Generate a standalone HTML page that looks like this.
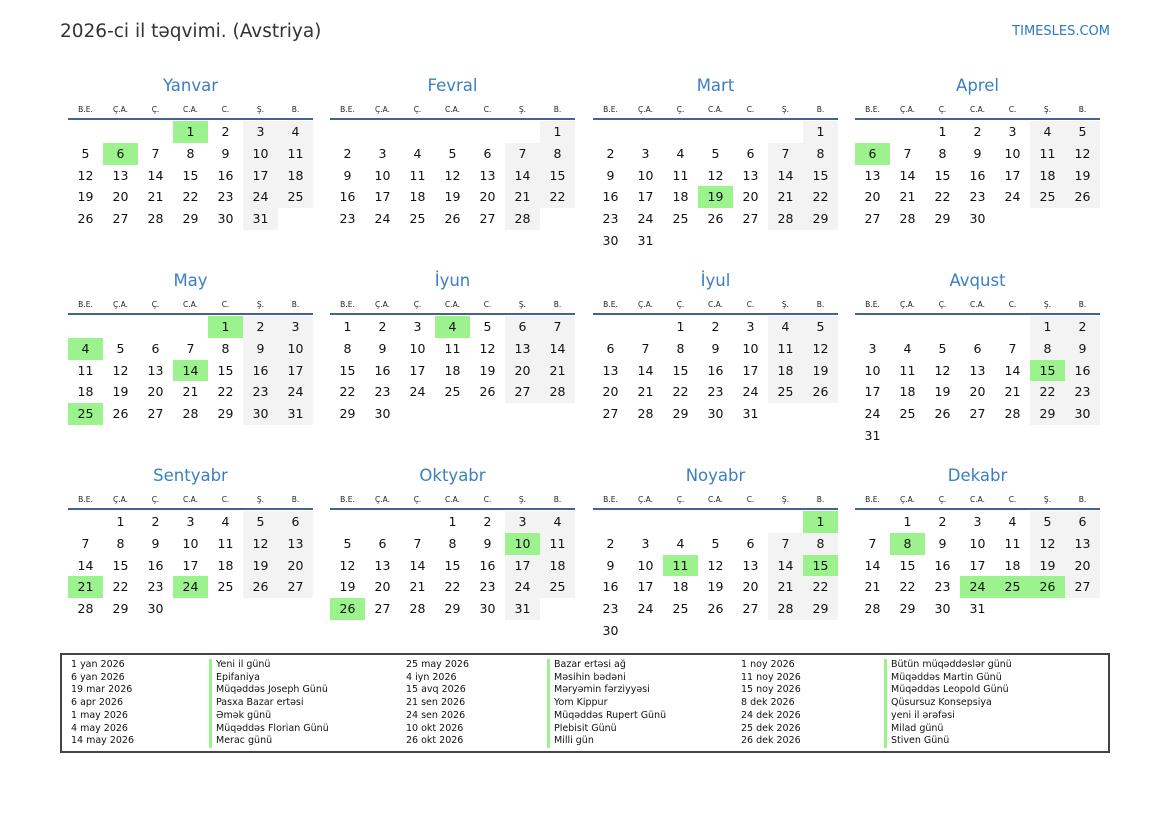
<!DOCTYPE html>
<html><head><meta charset="utf-8"><style>
body{margin:0;width:1169px;height:827px;background:#fff;font-family:"DejaVu Sans","Liberation Sans",sans-serif;position:relative;overflow:hidden;color:#111}
.t{position:absolute;left:60px;top:21px;font-size:18.5px;color:#333}
.s{position:absolute;right:59px;top:24px;font-size:13px;color:#2a7ac0}
.m{position:absolute;width:245px}
.m h2{margin:0;height:28px;font-weight:normal;font-size:16.5px;color:#3a7fc1;text-align:center;line-height:26px;padding-top:0}
.hd{display:grid;grid-template-columns:repeat(7,35px);font-size:7.5px;text-align:center;height:16px;line-height:16px;color:#222;border-bottom:2px solid #46638f;margin-top:1px}
.g{display:grid;grid-template-columns:repeat(7,35px);grid-auto-rows:21.75px;margin-top:1px}
.g span,.g i{font-style:normal;text-align:center;line-height:21.75px;font-size:12.5px}
.g span:nth-child(7n+6),.g span:nth-child(7n){background:#f3f3f3}
.g span.h{background:#9cf38e}
.lg{position:absolute;left:60px;top:653px;width:1046px;height:96px;border:2px solid #444;font-size:9.5px;line-height:12.7px}
.c{position:absolute;top:4px}
.b{border-left:3px solid #9cf38e;padding-left:4px}
</style></head><body>
<div class="t">2026-ci il təqvimi. (Avstriya)</div>
<div class="s">TIMESLES.COM</div>

<div class="m" style="left:68px;top:73px"><h2>Yanvar</h2><div class="hd"><div>B.E.</div><div>Ç.A.</div><div>Ç.</div><div>C.A.</div><div>C.</div><div>Ş.</div><div>B.</div></div>
<div class="g"><i></i><i></i><i></i><span class="h">1</span><span>2</span><span>3</span><span>4</span><span>5</span><span class="h">6</span><span>7</span><span>8</span><span>9</span><span>10</span><span>11</span><span>12</span><span>13</span><span>14</span><span>15</span><span>16</span><span>17</span><span>18</span><span>19</span><span>20</span><span>21</span><span>22</span><span>23</span><span>24</span><span>25</span><span>26</span><span>27</span><span>28</span><span>29</span><span>30</span><span>31</span></div></div>

<div class="m" style="left:330px;top:73px"><h2>Fevral</h2><div class="hd"><div>B.E.</div><div>Ç.A.</div><div>Ç.</div><div>C.A.</div><div>C.</div><div>Ş.</div><div>B.</div></div>
<div class="g"><i></i><i></i><i></i><i></i><i></i><i></i><span>1</span><span>2</span><span>3</span><span>4</span><span>5</span><span>6</span><span>7</span><span>8</span><span>9</span><span>10</span><span>11</span><span>12</span><span>13</span><span>14</span><span>15</span><span>16</span><span>17</span><span>18</span><span>19</span><span>20</span><span>21</span><span>22</span><span>23</span><span>24</span><span>25</span><span>26</span><span>27</span><span>28</span></div></div>

<div class="m" style="left:593px;top:73px"><h2>Mart</h2><div class="hd"><div>B.E.</div><div>Ç.A.</div><div>Ç.</div><div>C.A.</div><div>C.</div><div>Ş.</div><div>B.</div></div>
<div class="g"><i></i><i></i><i></i><i></i><i></i><i></i><span>1</span><span>2</span><span>3</span><span>4</span><span>5</span><span>6</span><span>7</span><span>8</span><span>9</span><span>10</span><span>11</span><span>12</span><span>13</span><span>14</span><span>15</span><span>16</span><span>17</span><span>18</span><span class="h">19</span><span>20</span><span>21</span><span>22</span><span>23</span><span>24</span><span>25</span><span>26</span><span>27</span><span>28</span><span>29</span><span>30</span><span>31</span></div></div>

<div class="m" style="left:855px;top:73px"><h2>Aprel</h2><div class="hd"><div>B.E.</div><div>Ç.A.</div><div>Ç.</div><div>C.A.</div><div>C.</div><div>Ş.</div><div>B.</div></div>
<div class="g"><i></i><i></i><span>1</span><span>2</span><span>3</span><span>4</span><span>5</span><span class="h">6</span><span>7</span><span>8</span><span>9</span><span>10</span><span>11</span><span>12</span><span>13</span><span>14</span><span>15</span><span>16</span><span>17</span><span>18</span><span>19</span><span>20</span><span>21</span><span>22</span><span>23</span><span>24</span><span>25</span><span>26</span><span>27</span><span>28</span><span>29</span><span>30</span></div></div>

<div class="m" style="left:68px;top:268px"><h2>May</h2><div class="hd"><div>B.E.</div><div>Ç.A.</div><div>Ç.</div><div>C.A.</div><div>C.</div><div>Ş.</div><div>B.</div></div>
<div class="g"><i></i><i></i><i></i><i></i><span class="h">1</span><span>2</span><span>3</span><span class="h">4</span><span>5</span><span>6</span><span>7</span><span>8</span><span>9</span><span>10</span><span>11</span><span>12</span><span>13</span><span class="h">14</span><span>15</span><span>16</span><span>17</span><span>18</span><span>19</span><span>20</span><span>21</span><span>22</span><span>23</span><span>24</span><span class="h">25</span><span>26</span><span>27</span><span>28</span><span>29</span><span>30</span><span>31</span></div></div>

<div class="m" style="left:330px;top:268px"><h2>İyun</h2><div class="hd"><div>B.E.</div><div>Ç.A.</div><div>Ç.</div><div>C.A.</div><div>C.</div><div>Ş.</div><div>B.</div></div>
<div class="g"><span>1</span><span>2</span><span>3</span><span class="h">4</span><span>5</span><span>6</span><span>7</span><span>8</span><span>9</span><span>10</span><span>11</span><span>12</span><span>13</span><span>14</span><span>15</span><span>16</span><span>17</span><span>18</span><span>19</span><span>20</span><span>21</span><span>22</span><span>23</span><span>24</span><span>25</span><span>26</span><span>27</span><span>28</span><span>29</span><span>30</span></div></div>

<div class="m" style="left:593px;top:268px"><h2>İyul</h2><div class="hd"><div>B.E.</div><div>Ç.A.</div><div>Ç.</div><div>C.A.</div><div>C.</div><div>Ş.</div><div>B.</div></div>
<div class="g"><i></i><i></i><span>1</span><span>2</span><span>3</span><span>4</span><span>5</span><span>6</span><span>7</span><span>8</span><span>9</span><span>10</span><span>11</span><span>12</span><span>13</span><span>14</span><span>15</span><span>16</span><span>17</span><span>18</span><span>19</span><span>20</span><span>21</span><span>22</span><span>23</span><span>24</span><span>25</span><span>26</span><span>27</span><span>28</span><span>29</span><span>30</span><span>31</span></div></div>

<div class="m" style="left:855px;top:268px"><h2>Avqust</h2><div class="hd"><div>B.E.</div><div>Ç.A.</div><div>Ç.</div><div>C.A.</div><div>C.</div><div>Ş.</div><div>B.</div></div>
<div class="g"><i></i><i></i><i></i><i></i><i></i><span>1</span><span>2</span><span>3</span><span>4</span><span>5</span><span>6</span><span>7</span><span>8</span><span>9</span><span>10</span><span>11</span><span>12</span><span>13</span><span>14</span><span class="h">15</span><span>16</span><span>17</span><span>18</span><span>19</span><span>20</span><span>21</span><span>22</span><span>23</span><span>24</span><span>25</span><span>26</span><span>27</span><span>28</span><span>29</span><span>30</span><span>31</span></div></div>

<div class="m" style="left:68px;top:463px"><h2>Sentyabr</h2><div class="hd"><div>B.E.</div><div>Ç.A.</div><div>Ç.</div><div>C.A.</div><div>C.</div><div>Ş.</div><div>B.</div></div>
<div class="g"><i></i><span>1</span><span>2</span><span>3</span><span>4</span><span>5</span><span>6</span><span>7</span><span>8</span><span>9</span><span>10</span><span>11</span><span>12</span><span>13</span><span>14</span><span>15</span><span>16</span><span>17</span><span>18</span><span>19</span><span>20</span><span class="h">21</span><span>22</span><span>23</span><span class="h">24</span><span>25</span><span>26</span><span>27</span><span>28</span><span>29</span><span>30</span></div></div>

<div class="m" style="left:330px;top:463px"><h2>Oktyabr</h2><div class="hd"><div>B.E.</div><div>Ç.A.</div><div>Ç.</div><div>C.A.</div><div>C.</div><div>Ş.</div><div>B.</div></div>
<div class="g"><i></i><i></i><i></i><span>1</span><span>2</span><span>3</span><span>4</span><span>5</span><span>6</span><span>7</span><span>8</span><span>9</span><span class="h">10</span><span>11</span><span>12</span><span>13</span><span>14</span><span>15</span><span>16</span><span>17</span><span>18</span><span>19</span><span>20</span><span>21</span><span>22</span><span>23</span><span>24</span><span>25</span><span class="h">26</span><span>27</span><span>28</span><span>29</span><span>30</span><span>31</span></div></div>

<div class="m" style="left:593px;top:463px"><h2>Noyabr</h2><div class="hd"><div>B.E.</div><div>Ç.A.</div><div>Ç.</div><div>C.A.</div><div>C.</div><div>Ş.</div><div>B.</div></div>
<div class="g"><i></i><i></i><i></i><i></i><i></i><i></i><span class="h">1</span><span>2</span><span>3</span><span>4</span><span>5</span><span>6</span><span>7</span><span>8</span><span>9</span><span>10</span><span class="h">11</span><span>12</span><span>13</span><span>14</span><span class="h">15</span><span>16</span><span>17</span><span>18</span><span>19</span><span>20</span><span>21</span><span>22</span><span>23</span><span>24</span><span>25</span><span>26</span><span>27</span><span>28</span><span>29</span><span>30</span></div></div>

<div class="m" style="left:855px;top:463px"><h2>Dekabr</h2><div class="hd"><div>B.E.</div><div>Ç.A.</div><div>Ç.</div><div>C.A.</div><div>C.</div><div>Ş.</div><div>B.</div></div>
<div class="g"><i></i><span>1</span><span>2</span><span>3</span><span>4</span><span>5</span><span>6</span><span>7</span><span class="h">8</span><span>9</span><span>10</span><span>11</span><span>12</span><span>13</span><span>14</span><span>15</span><span>16</span><span>17</span><span>18</span><span>19</span><span>20</span><span>21</span><span>22</span><span>23</span><span class="h">24</span><span class="h">25</span><span class="h">26</span><span>27</span><span>28</span><span>29</span><span>30</span><span>31</span></div></div>

<div class="lg">
<div class="c" style="left:9px">1 yan 2026<br>6 yan 2026<br>19 mar 2026<br>6 apr 2026<br>1 may 2026<br>4 may 2026<br>14 may 2026</div>
<div class="c b" style="left:147px">Yeni il günü<br>Epifaniya<br>Müqəddəs Joseph Günü<br>Pasxa Bazar ertəsi<br>Əmək günü<br>Müqəddəs Florian Günü<br>Merac günü</div>
<div class="c" style="left:344px">25 may 2026<br>4 iyn 2026<br>15 avq 2026<br>21 sen 2026<br>24 sen 2026<br>10 okt 2026<br>26 okt 2026</div>
<div class="c b" style="left:485px">Bazar ertəsi ağ<br>Məsihin bədəni<br>Məryəmin fərziyyəsi<br>Yom Kippur<br>Müqəddəs Rupert Günü<br>Plebisit Günü<br>Milli gün</div>
<div class="c" style="left:679px">1 noy 2026<br>11 noy 2026<br>15 noy 2026<br>8 dek 2026<br>24 dek 2026<br>25 dek 2026<br>26 dek 2026</div>
<div class="c b" style="left:822px">Bütün müqəddəslər günü<br>Müqəddəs Martin Günü<br>Müqəddəs Leopold Günü<br>Qüsursuz Konsepsiya<br>yeni il ərəfəsi<br>Milad günü<br>Stiven Günü</div>
</div>
</body></html>
